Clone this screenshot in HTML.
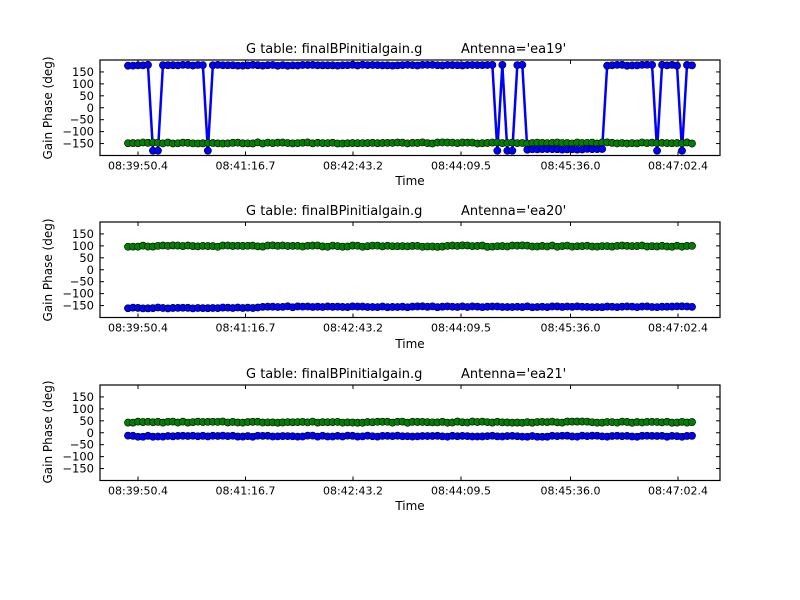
<!DOCTYPE html>
<html><head><meta charset="utf-8"><style>
html,body{margin:0;padding:0;background:#fff;}
svg{display:block;font-family:"DejaVu Sans","Liberation Sans",sans-serif;}
</style></head><body>
<svg id="s" width="800" height="600" viewBox="0 0 800 600" xmlns="http://www.w3.org/2000/svg">
<rect width="800" height="600" fill="#fff"/>
<g font-size="13" fill="#000">
<text x="246" y="53">G table: finalBPinitialgain.g</text><text x="461" y="53">Antenna='ea19'</text>
<text x="246" y="215">G table: finalBPinitialgain.g</text><text x="461" y="215">Antenna='ea20'</text>
<text x="246" y="378">G table: finalBPinitialgain.g</text><text x="461" y="378">Antenna='ea21'</text>
</g>
<g font-size="12" fill="#000" text-anchor="middle">
<text x="410" y="185">Time</text>
<text x="410" y="348">Time</text>
<text x="410" y="510">Time</text>
<text transform="translate(52,108) rotate(-90)">Gain Phase (deg)</text>
<text transform="translate(52,270) rotate(-90)">Gain Phase (deg)</text>
<text transform="translate(52,432) rotate(-90)">Gain Phase (deg)</text>
</g>
<g id="plots"></g>
</svg>
<script>
var g=document.getElementById('plots');var ns='http://www.w3.org/2000/svg';
function el(t,a,p){var e=document.createElementNS(ns,t);for(var k in a)e.setAttribute(k,a[k]);(p||g).appendChild(e);return e;}
var tops=[60,222,385],H=95.5,L=100,R=720;
var xt=[138,245.5,353,461,570.5,678],xl=['08:39:50.4','08:41:16.7','08:42:43.2','08:44:09.5','08:45:36.0','08:47:02.4'];
var N=114,xs=[];for(var i=0;i<N;i++)xs.push(128+i*(692-128)/(N-1));
function rnd(i,s){var v=Math.sin(i*12.9898+s*78.233)*43758.5453;return v-Math.floor(v);}
var dips=[153,157.5,210,499,509,513.5,655,680,684];
function near(x,arr){for(var j=0;j<arr.length;j++)if(Math.abs(x-arr[j])<2.6)return true;return false;}
var data=[
 {b:xs.map(function(x,i){if(near(x,dips))return -180; if(x>526&&x<604)return -176+rnd(i,1)*4; return 176+rnd(i,2)*4;}),
  gr:xs.map(function(x,i){return -150+rnd(i,3)*5;})},
 {b:xs.map(function(x,i){return (x<262?-162:-157)+rnd(i,4)*4;}),
  gr:xs.map(function(x,i){return 96+rnd(i,5)*6;})},
 {b:xs.map(function(x,i){return -17+rnd(i,6)*5;}),
  gr:xs.map(function(x,i){return 42+rnd(i,7)*5;})}
];
for(var p=0;p<3;p++){
 var T=tops[p],B=T+H;function Y(v){return T+H/2-v*(H/400);}
 var gg=el('g',{});
 el('rect',{x:L,y:T,width:R-L,height:H,fill:'#fff',stroke:'none'},gg);
 var yt=[150,100,50,0,-50,-100,-150],yl=['150','100','50','0','\u221250','\u2212100','\u2212150'];
 for(var k=0;k<yt.length;k++){var y=Y(yt[k]);
  el('line',{x1:L,x2:L+4,y1:y,y2:y,stroke:'#000','stroke-width':1},gg);
  el('line',{x1:R,x2:R-4,y1:y,y2:y,stroke:'#000','stroke-width':1},gg);
  var t=el('text',{x:L-6,y:y+4,'text-anchor':'end','font-size':'11.5'},gg);t.textContent=yl[k];}
 for(var k=0;k<xt.length;k++){
  el('line',{x1:xt[k],x2:xt[k],y1:B,y2:B-4,stroke:'#000'},gg);
  el('line',{x1:xt[k],x2:xt[k],y1:T,y2:T+4,stroke:'#000'},gg);
  var t=el('text',{x:xt[k],y:B+14,'text-anchor':'middle','font-size':'11'},gg);t.textContent=xl[k];}
 var d=data[p];
 var pts=xs.map(function(x,i){return x+','+Y(d.b[i]);}).join(' ');
 el('polyline',{points:pts,fill:'none',stroke:'#0000ff','stroke-width':2.5},gg);
 pts=xs.map(function(x,i){return x+','+Y(d.gr[i]);}).join(' ');
 el('polyline',{points:pts,fill:'none',stroke:'#008000','stroke-width':2.5},gg);
 xs.forEach(function(x,i){el('circle',{cx:x,cy:Y(d.gr[i]),r:3.6,fill:'#008000',stroke:'#000','stroke-width':0.6},gg);});
 xs.forEach(function(x,i){el('circle',{cx:x,cy:Y(d.b[i]),r:3.6,fill:'#0000ff',stroke:'#000','stroke-width':0.6},gg);});
 el('rect',{x:L,y:T,width:R-L,height:H,fill:'none',stroke:'#000','stroke-width':1.2},gg);
}
</script>
</body></html>
